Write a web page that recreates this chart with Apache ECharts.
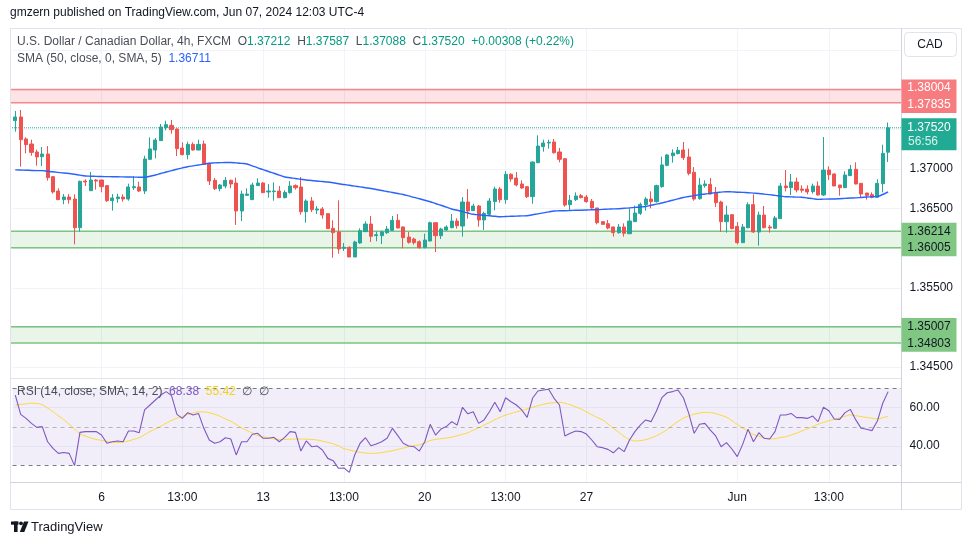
<!DOCTYPE html>
<html><head><meta charset="utf-8">
<script src="https://cdn.jsdelivr.net/npm/echarts/dist/echarts.min.js"></script>
<style>html,body{margin:0;padding:0;background:#fff}#c{width:970px;height:545px}</style>
</head><body><div id="c"></div>
<script>
// ---- DATA (USD/CAD 4h, FXCM) ----
const opens=[1.37610,1.37657,1.37379,1.37316,1.37215,1.37156,1.37189,1.36903,1.36722,1.36613,1.36646,1.36621,1.36259,1.36848,1.36726,1.36861,1.36861,1.36790,1.36600,1.36625,1.36646,1.36621,1.36764,1.36773,1.36722,1.37122,1.37240,1.37358,1.37522,1.37551,1.37505,1.37265,1.37181,1.37311,1.37240,1.37316,1.37063,1.36857,1.36752,1.36785,1.36857,1.36823,1.36470,1.36667,1.36613,1.36790,1.36823,1.36710,1.36714,1.36722,1.36638,1.36701,1.36790,1.36773,1.36461,1.36596,1.36482,1.36495,1.36436,1.36251,1.36205,1.35998,1.36011,1.35889,1.36066,1.36209,1.36305,1.36158,1.36158,1.36196,1.36226,1.36352,1.36268,1.36141,1.36116,1.36082,1.36007,1.36091,1.36322,1.36158,1.36230,1.36259,1.36343,1.36280,1.36583,1.36474,1.36533,1.36356,1.36428,1.36588,1.36747,1.36613,1.36933,1.36886,1.36811,1.36777,1.36651,1.37080,1.37282,1.37328,1.37341,1.37215,1.37130,1.36550,1.36613,1.36663,1.36646,1.36592,1.36508,1.36335,1.36310,1.36268,1.36196,1.36268,1.36183,1.36335,1.36440,1.36550,1.36621,1.36588,1.36777,1.37046,1.37168,1.37194,1.37240,1.37152,1.36958,1.36625,1.36790,1.36806,1.36705,1.36583,1.36335,1.36423,1.36276,1.36070,1.36259,1.36550,1.36205,1.36419,1.36268,1.36251,1.36373,1.36785,1.36764,1.36836,1.36747,1.36747,1.36714,1.36785,1.36672,1.36987,1.36937,1.36798,1.36764,1.36916,1.36996,1.36819,1.36697,1.36676,1.36642,1.36815,1.37212];
const closes=[1.37657,1.37370,1.37307,1.37210,1.37152,1.37189,1.36891,1.36710,1.36613,1.36646,1.36613,1.36259,1.36844,1.36836,1.36861,1.36848,1.36777,1.36600,1.36634,1.36646,1.36621,1.36773,1.36777,1.36722,1.37126,1.37253,1.37366,1.37530,1.37560,1.37497,1.37257,1.37181,1.37311,1.37240,1.37311,1.37059,1.36848,1.36752,1.36798,1.36857,1.36811,1.36470,1.36684,1.36684,1.36798,1.36823,1.36701,1.36722,1.36722,1.36638,1.36705,1.36785,1.36764,1.36461,1.36596,1.36487,1.36495,1.36419,1.36247,1.36196,1.35990,1.36011,1.35889,1.36078,1.36221,1.36305,1.36150,1.36171,1.36205,1.36242,1.36352,1.36255,1.36133,1.36074,1.36070,1.36007,1.36103,1.36322,1.36158,1.36242,1.36268,1.36343,1.36284,1.36583,1.36470,1.36533,1.36356,1.36440,1.36596,1.36747,1.36613,1.36933,1.36874,1.36798,1.36760,1.36651,1.37088,1.37290,1.37328,1.37337,1.37206,1.37122,1.36545,1.36604,1.36659,1.36638,1.36588,1.36508,1.36322,1.36301,1.36255,1.36196,1.36268,1.36188,1.36343,1.36444,1.36554,1.36621,1.36588,1.36790,1.37051,1.37177,1.37202,1.37236,1.37143,1.36945,1.36621,1.36798,1.36811,1.36684,1.36575,1.36335,1.36419,1.36247,1.36070,1.36268,1.36550,1.36205,1.36419,1.36259,1.36255,1.36381,1.36785,1.36764,1.36836,1.36735,1.36731,1.36710,1.36785,1.36672,1.36987,1.36928,1.36785,1.36764,1.36924,1.36996,1.36811,1.36684,1.36667,1.36642,1.36819,1.37198,1.37520];
const lows=[1.37471,1.37029,1.37198,1.37168,1.37042,1.37038,1.36853,1.36689,1.36609,1.36554,1.36562,1.36049,1.36209,1.36785,1.36722,1.36739,1.36705,1.36583,1.36474,1.36575,1.36588,1.36600,1.36735,1.36710,1.36684,1.37114,1.37135,1.37354,1.37488,1.37446,1.37164,1.37173,1.37122,1.37231,1.37236,1.37051,1.36798,1.36735,1.36718,1.36756,1.36756,1.36293,1.36343,1.36659,1.36609,1.36785,1.36697,1.36638,1.36600,1.36634,1.36630,1.36689,1.36739,1.36423,1.36322,1.36457,1.36432,1.36373,1.36242,1.35880,1.35931,1.35965,1.35889,1.35889,1.36057,1.36205,1.36078,1.36087,1.36053,1.36179,1.36217,1.36251,1.35998,1.36057,1.36045,1.35994,1.35998,1.36087,1.35952,1.36116,1.36221,1.36251,1.36247,1.36146,1.36373,1.36470,1.36272,1.36230,1.36407,1.36478,1.36575,1.36562,1.36840,1.36781,1.36747,1.36634,1.36562,1.37072,1.37219,1.37257,1.37194,1.37084,1.36524,1.36474,1.36596,1.36630,1.36575,1.36499,1.36301,1.36297,1.36238,1.36146,1.36183,1.36146,1.36179,1.36331,1.36419,1.36474,1.36503,1.36575,1.36764,1.37034,1.37080,1.37185,1.37114,1.36920,1.36600,1.36613,1.36764,1.36680,1.36520,1.36205,1.36196,1.36238,1.36049,1.36066,1.36251,1.36192,1.36032,1.36251,1.36196,1.36242,1.36369,1.36718,1.36672,1.36705,1.36701,1.36680,1.36689,1.36667,1.36659,1.36861,1.36785,1.36663,1.36760,1.36912,1.36806,1.36634,1.36613,1.36630,1.36634,1.36705,1.37088];
const highs=[1.37732,1.37745,1.37400,1.37370,1.37244,1.37278,1.37290,1.36912,1.36756,1.36684,1.36684,1.36680,1.36853,1.36870,1.36962,1.36874,1.36865,1.36798,1.36684,1.36689,1.36680,1.36815,1.36912,1.36840,1.37168,1.37400,1.37391,1.37568,1.37610,1.37619,1.37513,1.37337,1.37345,1.37337,1.37370,1.37358,1.37080,1.36886,1.36811,1.36899,1.36865,1.36891,1.36726,1.36756,1.36827,1.36882,1.36832,1.36811,1.36832,1.36785,1.36731,1.36848,1.36806,1.36899,1.36617,1.36646,1.36533,1.36520,1.36444,1.36352,1.36604,1.36066,1.36024,1.36095,1.36251,1.36339,1.36407,1.36209,1.36221,1.36280,1.36407,1.36432,1.36276,1.36205,1.36133,1.36099,1.36183,1.36335,1.36322,1.36259,1.36289,1.36432,1.36377,1.36646,1.36747,1.36562,1.36545,1.36461,1.36634,1.36777,1.36773,1.36975,1.36945,1.36962,1.36857,1.36785,1.37097,1.37425,1.37370,1.37370,1.37379,1.37265,1.37139,1.36672,1.36705,1.36684,1.36672,1.36621,1.36508,1.36343,1.36356,1.36272,1.36305,1.36314,1.36503,1.36537,1.36575,1.36646,1.36718,1.36802,1.37156,1.37189,1.37248,1.37278,1.37341,1.37257,1.37025,1.36886,1.36857,1.36886,1.36773,1.36600,1.36537,1.36432,1.36331,1.36305,1.36579,1.36680,1.36461,1.36533,1.36293,1.36407,1.36823,1.36987,1.36937,1.36891,1.36794,1.36794,1.36815,1.36844,1.37404,1.37034,1.36945,1.36798,1.36971,1.37051,1.37084,1.36823,1.36697,1.36705,1.36870,1.37307,1.37587];
const sma50=[1.36989,1.36987,1.36985,1.36982,1.36980,1.36979,1.36972,1.36965,1.36957,1.36949,1.36943,1.36933,1.36922,1.36912,1.36909,1.36907,1.36905,1.36904,1.36903,1.36902,1.36900,1.36899,1.36898,1.36896,1.36896,1.36908,1.36924,1.36943,1.36962,1.36980,1.36997,1.37014,1.37029,1.37040,1.37051,1.37062,1.37072,1.37077,1.37080,1.37082,1.37082,1.37077,1.37071,1.37063,1.37039,1.37015,1.36992,1.36968,1.36946,1.36922,1.36899,1.36889,1.36880,1.36870,1.36861,1.36855,1.36848,1.36842,1.36836,1.36826,1.36814,1.36804,1.36794,1.36784,1.36774,1.36764,1.36754,1.36741,1.36729,1.36716,1.36703,1.36691,1.36678,1.36660,1.36641,1.36624,1.36606,1.36587,1.36564,1.36542,1.36518,1.36495,1.36479,1.36461,1.36444,1.36428,1.36422,1.36415,1.36409,1.36403,1.36398,1.36400,1.36403,1.36405,1.36408,1.36410,1.36422,1.36434,1.36446,1.36458,1.36470,1.36472,1.36473,1.36476,1.36479,1.36480,1.36482,1.36485,1.36487,1.36490,1.36494,1.36496,1.36499,1.36504,1.36509,1.36515,1.36520,1.36527,1.36542,1.36556,1.36571,1.36588,1.36606,1.36622,1.36640,1.36652,1.36664,1.36676,1.36684,1.36693,1.36702,1.36708,1.36713,1.36711,1.36707,1.36705,1.36700,1.36696,1.36691,1.36683,1.36676,1.36667,1.36659,1.36650,1.36648,1.36645,1.36643,1.36634,1.36626,1.36617,1.36619,1.36621,1.36622,1.36625,1.36629,1.36633,1.36636,1.36641,1.36646,1.36650,1.36655,1.36678,1.36711];
const rsi14=[66.6,56.5,54.4,51.8,49.7,50.1,42.2,38.7,36.1,36.6,36.1,29.7,47.1,47.5,47.5,47.5,45.7,41.4,42.2,42.6,42.2,47.8,47.8,46.9,58.8,61.4,64.0,66.6,68.4,66.3,56.5,54.4,57.4,56.2,57.0,49.2,43.1,41.4,42.2,44.3,43.6,35.3,42.2,42.2,46.1,46.6,44.0,44.0,44.5,42.2,44.5,47.5,47.1,37.3,42.6,39.6,40.0,37.9,33.5,32.3,28.3,28.5,26.2,35.3,41.4,44.3,40.1,41.0,42.2,44.0,49.2,45.4,41.4,40.0,39.6,37.3,42.2,51.3,45.7,48.8,50.1,52.7,50.9,60.2,56.8,57.9,51.8,53.6,57.9,62.8,57.9,65.2,63.1,61.4,58.8,54.9,64.9,68.7,69.2,69.6,64.9,61.4,45.2,46.6,47.8,47.5,46.2,43.1,39.6,39.1,38.2,36.4,39.1,37.0,43.1,47.5,50.9,53.6,52.7,58.3,65.2,67.8,68.4,69.2,65.2,57.0,46.6,51.3,51.8,48.3,45.2,39.6,41.7,38.4,34.4,40.8,48.8,42.2,46.9,44.0,43.6,47.5,56.2,56.2,57.0,54.8,54.8,54.4,55.6,52.7,60.2,58.4,54.1,53.9,57.4,59.1,53.6,49.2,48.7,48.0,53.0,62.3,68.38];
const rsiMa=[61.3,61.7,62.0,62.3,62.2,61.5,59.8,57.9,55.8,53.7,51.3,48.9,46.3,45.2,44.2,43.4,42.9,42.4,42.0,41.8,42.0,42.6,43.4,44.3,45.9,47.5,48.9,50.3,51.9,53.3,54.5,55.4,56.4,57.2,57.8,57.8,57.3,56.6,55.5,54.1,52.9,51.2,49.5,48.1,46.7,45.4,44.8,44.2,43.7,43.4,43.4,43.5,43.6,43.6,43.5,43.4,43.1,42.5,41.8,41.1,40.0,38.6,37.9,37.2,36.7,36.3,36.1,36.2,36.5,37.0,37.5,38.2,38.9,39.6,40.2,40.6,41.6,42.8,43.4,43.8,44.1,44.6,45.3,46.1,46.9,48.3,49.4,50.9,52.2,53.7,55.0,56.1,57.0,57.8,58.5,59.4,60.2,61.0,61.7,62.3,62.6,62.8,62.3,61.5,60.4,59.3,57.8,56.3,54.9,53.6,51.5,49.2,47.1,45.0,43.4,42.6,42.8,43.3,44.2,45.3,46.8,48.6,50.8,52.8,54.5,55.7,56.6,57.2,57.5,57.4,56.9,56.0,55.0,53.2,51.2,49.4,47.6,46.0,45.1,44.2,43.7,43.8,44.4,44.8,45.7,46.7,47.8,48.9,50.1,51.3,52.3,53.1,53.9,54.7,55.5,56.2,55.8,55.3,54.9,54.5,54.1,54.8,55.42];
const zoneLows=[1.37835,1.36005,1.34803];
const zoneHighs=[1.38004,1.36214,1.35007];
const zoneKinds=['resistance','support','support'];
const tickBars=[16,31,46,61,76,91,106,134,151];
const tickLabels=['6','13:00','13','13:00','20','13:00','27','Jun','13:00'];
const rsiLevels=[30,50,70];
const countdown='56:56';

// ---- CHART ----
const FONT="'Liberation Sans', Arial, sans-serif";
const chart=echarts.init(document.getElementById('c'));
const N=opens.length, NCAT=N+2;
const cats=Array.from({length:NCAT},(_,i)=>String(i));
const tickMap={}; tickBars.forEach((b,i)=>{tickMap[b]=tickLabels[i];});
const candleData=opens.map((o,i)=>[o,closes[i],lows[i],highs[i]]);
const last=N-1;
const GL=12.6, GW=889, BAND=GW/NCAT;
const UP='#26a69a', DOWN='#ef5350';
const zc={resistance:{fill:'rgba(242,54,69,0.14)',line:'#f7868a',badge:'#f77c80',text:'#ffffff'},
          support:{fill:'rgba(76,175,80,0.13)',line:'#7cc47f',badge:'#81c784',text:'#131722'}};

function priceLabel(v){
  const hidden = v>=1.3849 || Math.abs(v-closes[last])<0.0025 ||
    zoneLows.some((lo,i)=>v>=lo-0.0012 && v<=zoneHighs[i]+0.0012);
  return hidden?'':v.toFixed(5);
}

const zoneAreas=zoneLows.map((lo,i)=>[{yAxis:lo,itemStyle:{color:zc[zoneKinds[i]].fill}},{yAxis:zoneHighs[i]}]);
// zone edges and the last-price line as horizontal line series across the whole pane width
const hLines=[];
zoneLows.forEach((lo,i)=>{
  hLines.push({v:lo,color:zc[zoneKinds[i]].line,type:'solid',width:1.5});
  hLines.push({v:zoneHighs[i],color:zc[zoneKinds[i]].line,type:'solid',width:1.5});
});
hLines.push({v:closes[last],color:UP,type:'dotted',width:1});

const chg=closes[last]-opens[last];
const chgPct=chg/opens[last]*100;

const lineSeries=hLines.map((h,k)=>{
  const s={type:'line',name:'h'+k,xAxisIndex:3,yAxisIndex:3,data:cats.map(()=>h.v),showSymbol:false,silent:true,
    lineStyle:{color:h.color,width:h.width,type:h.type},z:2};
  if(k===0) s.markArea={silent:true,data:zoneAreas};
  return s;
});

const option={
  animation:false,
  backgroundColor:'#ffffff',
  textStyle:{fontFamily:FONT},
  grid:[
    {left:GL+BAND/2,width:BAND*(NCAT-1),top:28,bottom:62.5},
    {left:GL,width:GW,top:50.2,bottom:178},
    {left:GL,width:GW,top:369.4,bottom:60.8},
    {left:10,width:891,top:50.2,bottom:178}
  ],
  xAxis:[
    {gridIndex:0,type:'category',data:cats,boundaryGap:false,
     axisLine:{show:false},axisTick:{show:false},
     axisLabel:{interval:(i)=>tickMap[i]!==undefined,formatter:(v)=>tickMap[+v]||'',color:'#131722',fontSize:12,margin:9,fontFamily:FONT},
     splitLine:{show:true,interval:(i)=>tickMap[i]!==undefined,lineStyle:{color:'#f0f3fa',width:1}}},
    {gridIndex:1,type:'category',data:cats,boundaryGap:true,show:false},
    {gridIndex:2,type:'category',data:cats,boundaryGap:true,show:false},
    {gridIndex:3,type:'category',data:cats,boundaryGap:false,show:false}
  ],
  yAxis:[
    {gridIndex:0,type:'value',show:false,splitLine:{show:false}},
    {gridIndex:1,type:'value',position:'right',min:1.345,max:1.385,interval:0.005,
     axisLine:{show:false},axisTick:{show:false},
     axisLabel:{color:'#131722',fontSize:12,margin:8,formatter:priceLabel,fontFamily:FONT},
     splitLine:{show:true,lineStyle:{color:'#f0f3fa',width:1}}},
    {gridIndex:2,type:'value',position:'right',min:20,max:80,interval:10,
     axisLine:{show:false},axisTick:{show:false},
     axisLabel:{color:'#131722',fontSize:12,margin:8,fontFamily:FONT,formatter:(v)=>(v===40||v===60)?v.toFixed(2):''},
     splitLine:{show:true,lineStyle:{color:['rgba(0,0,0,0)','rgba(0,0,0,0)','#f0f3fa','rgba(0,0,0,0)','#f0f3fa','rgba(0,0,0,0)','rgba(0,0,0,0)']}}},
    {gridIndex:3,type:'value',show:false,min:1.345,max:1.385,splitLine:{show:false}}
  ],
  series:[
    {type:'candlestick',name:'USDCAD',xAxisIndex:1,yAxisIndex:1,data:candleData,barWidth:3.6,z:5,
     itemStyle:{color:UP,color0:DOWN,borderColor:UP,borderColor0:DOWN,borderWidth:1}},
    {type:'line',name:'SMA',xAxisIndex:1,yAxisIndex:1,data:sma50,showSymbol:false,smooth:true,
     lineStyle:{color:'#2962ff',width:1.4},z:6},
    {type:'line',name:'RSI MA',xAxisIndex:2,yAxisIndex:2,data:rsiMa,showSymbol:false,smooth:true,
     lineStyle:{color:'#fdd835',width:1},z:3},
    {type:'line',name:'RSI',xAxisIndex:2,yAxisIndex:2,data:rsi14,showSymbol:false,
     lineStyle:{color:'#7e57c2',width:1.1},z:4,
     markArea:{silent:true,data:[[{yAxis:rsiLevels[0],itemStyle:{color:'rgba(126,87,194,0.1)'}},{yAxis:rsiLevels[2]}]]},
     markLine:{silent:true,symbol:['none','none'],label:{show:false},
       data:rsiLevels.map(v=>({yAxis:v,lineStyle:{color:v===50?'rgba(120,123,134,0.5)':'#787b86',type:[4,4],width:1}}))}}
  ].concat(lineSeries),
  graphic:[
    {type:'text',id:'pub',left:10,top:7,style:{text:'gmzern published on TradingView.com, Jun 07, 2024 12:03 UTC-4',fill:'#131722',fontSize:12,fontFamily:FONT}},
    {type:'rect',id:'frame',shape:{x:10.5,y:28.5,width:951,height:481},style:{fill:'none',stroke:'#e0e3eb',lineWidth:1},z:50},
    {type:'line',id:'scaleSep',shape:{x1:901.5,y1:28,x2:901.5,y2:510},style:{stroke:'#d1d4dc',lineWidth:1},z:50},
    {type:'line',id:'paneSep',shape:{x1:10,y1:378.5,x2:901,y2:378.5},style:{stroke:'#e0e3eb',lineWidth:1},z:50},
    {type:'line',id:'timeSep',shape:{x1:10,y1:482.5,x2:961,y2:482.5},style:{stroke:'#d1d4dc',lineWidth:1},z:50},
    {type:'rect',id:'cadBox',shape:{x:904.5,y:32.5,width:52,height:24,r:4},style:{fill:'#fff',stroke:'#e0e3eb',lineWidth:1},z:60},
    {type:'text',id:'cad',x:930,y:44.5,style:{text:'CAD',fill:'#131722',fontSize:12,fontFamily:FONT,align:'center',verticalAlign:'middle'},z:61},
    {type:'text',id:'legend1',x:17,y:42,z:60,style:{
      text:'{t|U.S. Dollar / Canadian Dollar, 4h, FXCM}  {k|O}{v|'+opens[last].toFixed(5)+'}  {k|H}{v|'+highs[last].toFixed(5)+'}  {k|L}{v|'+lows[last].toFixed(5)+'}  {k|C}{v|'+closes[last].toFixed(5)+'}  {v|'+(chg>=0?'+':'')+chg.toFixed(5)+' ('+(chgPct>=0?'+':'')+chgPct.toFixed(2)+'%)}',
      verticalAlign:'middle',fontSize:12,fontFamily:FONT,
      rich:{t:{fill:'#4a4d57',fontSize:12,fontFamily:FONT},k:{fill:'#4a4d57',fontSize:12,fontFamily:FONT},v:{fill:'#089981',fontSize:12,fontFamily:FONT}}}},
    {type:'text',id:'legend2',x:17,y:59,z:60,style:{
      text:'{t|SMA (50, close, 0, SMA, 5)}  {v|'+sma50[last].toFixed(5)+'}',verticalAlign:'middle',fontSize:12,fontFamily:FONT,
      rich:{t:{fill:'#4a4d57',fontSize:12,fontFamily:FONT},v:{fill:'#2962ff',fontSize:12,fontFamily:FONT}}}},
    {type:'text',id:'legend3',x:17,y:392,z:60,style:{
      text:'{t|RSI (14, close, SMA, 14, 2)}  {p|'+rsi14[last].toFixed(2)+'}  {y|'+rsiMa[last].toFixed(2)+'}  {t|\u2205  \u2205}',verticalAlign:'middle',fontSize:12,fontFamily:FONT,
      rich:{t:{fill:'#4a4d57',fontSize:12,fontFamily:FONT},p:{fill:'#7e57c2',fontSize:12,fontFamily:FONT},y:{fill:'#f0d31c',fontSize:12,fontFamily:FONT}}}},
    {type:'rect',id:'lg1',shape:{x:11,y:521.5,width:7.5,height:3.2},style:{fill:'#131722'}},
    {type:'rect',id:'lg2',shape:{x:14,y:521.5,width:3.6,height:10.5},style:{fill:'#131722'}},
    {type:'circle',id:'lg3',shape:{cx:21,cy:523.3,r:1.9},style:{fill:'#131722'}},
    {type:'polygon',id:'lg4',shape:{points:[[24,521.5],[28.5,521.5],[24.3,532],[19.8,532]]},style:{fill:'#131722'}},
    {type:'text',id:'tvtxt',x:31,y:527,style:{text:'TradingView',fill:'#131722',fontSize:13,fontFamily:FONT,verticalAlign:'middle'}}
  ]
};
chart.setOption(option);

// ---- price-scale badges (positioned through the price axis) ----
function yPx(v){return chart.convertToPixel({yAxisIndex:1},v);}
const BX=901.5, BW=55, GAP=16.6;
const badges=[];
zoneLows.forEach((lo,i)=>{
  const c=zc[zoneKinds[i]];
  let y1=yPx(zoneHighs[i]), y2=yPx(lo);
  if(y2-y1<GAP){const m=(y1+y2)/2;y1=m-GAP/2;y2=m+GAP/2;}
  badges.push({type:'rect',id:'zb'+i,shape:{x:BX,y:y1-8.5,width:BW,height:y2-y1+17},style:{fill:c.badge},z:70});
  badges.push({type:'text',id:'zt'+i+'a',x:BX+BW/2,y:y1,style:{text:zoneHighs[i].toFixed(5),fill:c.text,fontSize:12,fontFamily:FONT,align:'center',verticalAlign:'middle'},z:71});
  badges.push({type:'text',id:'zt'+i+'b',x:BX+BW/2,y:y2,style:{text:lo.toFixed(5),fill:c.text,fontSize:12,fontFamily:FONT,align:'center',verticalAlign:'middle'},z:71});
});
const yl=yPx(closes[last]);
badges.push({type:'rect',id:'lastb',shape:{x:BX,y:yl-9.5,width:BW,height:32},style:{fill:'#22ab94'},z:70});
badges.push({type:'text',id:'lastt',x:BX+BW/2,y:yl,style:{text:closes[last].toFixed(5),fill:'#ffffff',fontSize:12,fontFamily:FONT,align:'center',verticalAlign:'middle'},z:71});
badges.push({type:'text',id:'lastc',x:BX+BW/2-6,y:yl+14,style:{text:countdown,fill:'#d7f2ec',fontSize:12,fontFamily:FONT,align:'center',verticalAlign:'middle'},z:71});
chart.setOption({graphic:badges});
</script>
</body></html>
